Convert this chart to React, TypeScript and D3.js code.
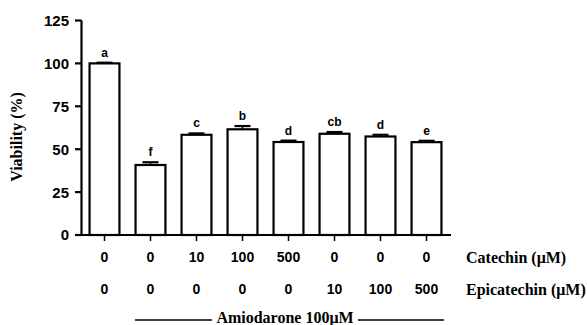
import React from "react";
import * as d3 from "d3";

const groups = ["g1", "g2", "g3", "g4", "g5", "g6", "g7", "g8"];
const viability = [100, 40.8, 58.4, 61.6, 54.2, 59.0, 57.4, 54.1];
const errors = [0.4, 1.6, 0.8, 1.9, 0.8, 1.0, 1.0, 0.8];
const letters = ["a", "f", "c", "b", "d", "cb", "d", "e"];
const catechin = ["0", "0", "10", "100", "500", "0", "0", "0"];
const epicatechin = ["0", "0", "0", "0", "0", "10", "100", "500"];
const yTicks = [0, 25, 50, 75, 100, 125];

export default function App() {
  const W = 587, H = 325;
  const x = d3.scaleBand<string>().domain(groups).range([81.5, 449.5]).paddingInner(0.35).paddingOuter(0.175);
  const y = d3.scaleLinear().domain([0, 125]).range([235, 20.5]);
  const sans = "Liberation Sans, Arial, sans-serif";
  const serif = "Liberation Serif, Times New Roman, serif";
  return (
    <svg width={W} height={H} style={{ position: "absolute", left: 0, top: 0, background: "#fff" }}>
      {groups.map((g, i) => {
        const x0 = x(g)!;
        const bw = x.bandwidth();
        const cx = x0 + bw / 2;
        const top = y(viability[i]);
        const eTop = y(viability[i] + errors[i]);
        return (
          <g key={g}>
            <rect x={x0} y={top} width={bw} height={y(0) - top} fill="#fff" stroke="#000" strokeWidth={2.2} />
            <line x1={cx} x2={cx} y1={top} y2={eTop} stroke="#000" strokeWidth={1.5} />
            <line x1={cx - 8} x2={cx + 8} y1={eTop} y2={eTop} stroke="#000" strokeWidth={2.2} />
            <text x={cx} y={eTop - 6} textAnchor="middle" fontFamily={sans} fontWeight="bold" fontSize={12}>{letters[i]}</text>
            <line x1={cx} x2={cx} y1={235} y2={241} stroke="#000" strokeWidth={1.5} />
            <text x={cx} y={262} textAnchor="middle" fontFamily={sans} fontWeight="bold" fontSize={14}>{catechin[i]}</text>
            <text x={cx} y={294} textAnchor="middle" fontFamily={sans} fontWeight="bold" fontSize={14}>{epicatechin[i]}</text>
          </g>
        );
      })}
      <line x1={81.5} x2={81.5} y1={y(125)} y2={236} stroke="#000" strokeWidth={2.2} />
      {yTicks.map((t) => (
        <g key={t}>
          <line x1={75} x2={81.5} y1={y(t)} y2={y(t)} stroke="#000" strokeWidth={2.2} />
          <text x={69} y={y(t)} dy="0.36em" textAnchor="end" fontFamily={sans} fontWeight="bold" fontSize={15}>{t}</text>
        </g>
      ))}
      <line x1={75} x2={451} y1={235} y2={235} stroke="#000" strokeWidth={2.2} />
      <text transform={`translate(22,137) rotate(-90)`} textAnchor="middle" fontFamily={serif} fontWeight="bold" fontSize={16}>Viability (%)</text>
      <text x={466} y={263} fontFamily={serif} fontWeight="bold" fontSize={16}>Catechin (μM)</text>
      <text x={466} y={295} fontFamily={serif} fontWeight="bold" fontSize={16}>Epicatechin (μM)</text>
      <line x1={135} x2={212} y1={320} y2={320} stroke="#000" strokeWidth={1.5} />
      <line x1={358} x2={444} y1={320} y2={320} stroke="#000" strokeWidth={1.5} />
      <text x={285} y={323} textAnchor="middle" fontFamily={serif} fontWeight="bold" fontSize={16}>Amiodarone 100μM</text>
    </svg>
  );
}
